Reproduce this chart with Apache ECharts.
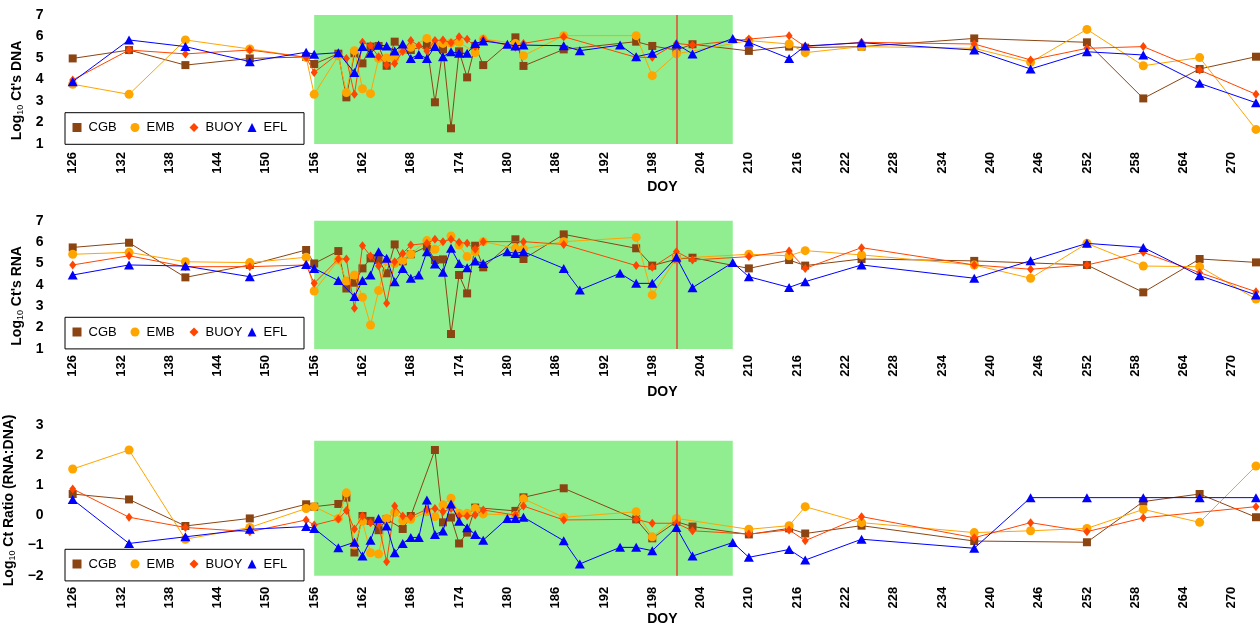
<!DOCTYPE html>
<html>
<head>
<meta charset="utf-8">
<script src="https://cdn.jsdelivr.net/npm/echarts@6/dist/echarts.min.js"></script>
<style>
  html, body { margin: 0; padding: 0; background: #fff; }
  #chart { width: 1260px; height: 625px; }
</style>
</head>
<body>
<div id="chart"></div>
<script>
// DOY, value pairs
const dnaCGB = [[126,4.98],[133,5.37],[140,4.67],[148,4.98],[155,5.05],[156,4.72],[159,5.2],[160,3.17],[161,5.22],[162,4.75],[163,5.53],[164,5.56],[165,4.64],[166,5.76],[167,5.4],[168,5.37],[170,5.6],[171,2.94],[172,5.4],[173,1.73],[174,5.31],[175,4.1],[176,5.56],[177,4.67],[181,5.96],[182,4.63],[187,5.4],[196,5.76],[198,5.56],[201,5.37],[203,5.64],[210,5.33],[215,5.53],[217,5.48],[224,5.53],[238,5.91],[252,5.73],[259,3.12],[266,4.49],[273,5.06]]
const dnaEMB = [[126,3.78],[133,3.31],[140,5.84],[148,5.42],[155,5.03],[156,3.31],[159,5.1],[160,3.39],[161,5.34],[162,3.57],[163,3.34],[164,4.98],[165,5.0],[166,4.98],[167,5.37],[168,5.5],[170,5.91],[171,5.6],[172,5.68],[173,5.7],[174,5.73],[176,5.25],[177,5.88],[181,5.68],[182,5.11],[187,6.04],[196,6.04],[198,4.18],[201,5.19],[210,5.81],[215,5.65],[217,5.25],[224,5.53],[238,5.45],[245,4.8],[252,6.33],[259,4.64],[266,5.02],[273,1.68]]
const dnaBUOY = [[126,3.98],[133,5.37],[140,5.19],[148,5.37],[155,5.03],[156,4.33],[159,5.2],[160,4.98],[161,3.31],[162,5.73],[163,5.57],[164,5.06],[165,4.67],[166,4.75],[167,5.3],[168,5.81],[169,5.57],[170,5.33],[171,5.81],[172,5.84],[173,5.71],[174,5.99],[175,5.87],[176,5.53],[177,5.87],[181,5.5],[182,5.68],[187,5.99],[196,5.03],[198,5.03],[201,5.68],[203,5.6],[210,5.88],[215,6.04],[217,5.53],[224,5.73],[238,5.65],[245,4.91],[252,5.45],[259,5.53],[266,4.44],[273,3.31]]
const dnaEFL = [[126,3.9],[133,5.84],[140,5.53],[148,4.83],[155,5.27],[156,5.17],[159,5.25],[161,4.32],[162,5.53],[163,5.22],[164,5.6],[165,5.56],[166,5.33],[167,5.65],[168,4.98],[169,5.16],[170,4.98],[171,5.53],[172,5.06],[173,5.29],[174,5.22],[175,5.22],[176,5.67],[177,5.79],[180,5.64],[181,5.56],[182,5.6],[187,5.57],[189,5.34],[194,5.6],[196,5.06],[198,5.22],[201,5.65],[203,5.19],[208,5.91],[210,5.73],[215,4.98],[217,5.56],[224,5.71],[238,5.37],[245,4.49],[252,5.29],[259,5.14],[266,3.82],[273,2.92]]

const rnaCGB = [[126,5.75],[133,5.97],[140,4.35],[148,4.93],[155,5.63],[156,5.0],[159,5.58],[160,3.83],[161,4.1],[162,4.77],[163,5.24],[164,5.16],[165,4.54],[166,5.89],[167,5.1],[168,5.43],[170,5.79],[171,5.16],[172,5.19],[173,1.7],[174,4.46],[175,3.6],[176,5.83],[177,4.82],[181,6.13],[182,5.21],[187,6.36],[196,5.71],[198,4.9],[201,5.2],[203,5.27],[210,4.77],[215,5.16],[217,4.9],[224,5.21],[238,5.12],[252,4.93],[259,3.65],[266,5.21],[273,5.05]]
const rnaEMB = [[126,5.43],[133,5.52],[140,5.08],[148,5.04],[155,5.29],[156,3.71],[159,5.16],[160,4.18],[161,4.46],[162,3.42],[163,2.12],[164,3.73],[165,5.1],[166,5.0],[167,5.13],[168,5.43],[170,6.07],[171,5.66],[173,6.29],[174,5.86],[175,5.32],[176,5.55],[177,6.02],[181,5.71],[182,5.68],[187,6.02],[196,6.22],[198,3.53],[201,5.24],[210,5.43],[215,5.36],[217,5.6],[224,5.4],[238,4.93],[245,4.31],[252,5.94],[259,4.88],[266,4.85],[273,3.34]]
const rnaBUOY = [[126,4.93],[133,5.36],[140,4.85],[148,4.85],[155,4.93],[156,4.07],[159,5.21],[160,5.21],[161,2.9],[162,5.83],[163,5.35],[164,4.88],[165,3.14],[166,5.08],[167,5.47],[168,5.86],[170,5.94],[171,6.13],[172,6.02],[173,6.13],[174,5.99],[175,5.94],[176,5.66],[177,6.02],[182,6.02],[187,5.89],[196,4.9],[198,4.82],[201,5.55],[203,5.16],[210,5.32],[215,5.58],[217,4.77],[224,5.74],[238,4.93],[245,4.73],[252,4.93],[259,5.52],[266,4.57],[273,3.68]]
const rnaEFL = [[126,4.46],[133,4.93],[140,4.88],[148,4.38],[155,4.95],[156,4.77],[159,4.2],[161,3.45],[162,4.2],[163,4.46],[164,5.55],[165,5.24],[166,4.15],[167,4.77],[168,4.31],[169,4.46],[170,5.55],[171,4.98],[172,4.59],[173,5.71],[174,5.0],[175,4.8],[176,5.12],[177,5.0],[180,5.55],[181,5.47],[182,5.55],[187,4.77],[189,3.76],[194,4.54],[196,4.07],[198,4.07],[201,5.29],[203,3.87],[208,5.04],[210,4.38],[215,3.88],[217,4.15],[224,4.93],[238,4.31],[245,5.13],[252,5.94],[259,5.75],[266,4.43],[273,3.53]]

const ratioCGB = [[126,0.71],[133,0.53],[140,-0.35],[148,-0.1],[155,0.37],[156,0.29],[159,0.38],[160,0.59],[161,-1.23],[162,-0.02],[163,-0.18],[164,-0.49],[165,-0.12],[167,-0.45],[168,-0.02],[171,2.17],[172,-0.23],[173,-0.07],[174,-0.93],[175,-0.57],[176,0.26],[181,0.15],[182,0.6],[187,0.9],[196,-0.13],[198,-0.76],[201,-0.21],[203,-0.37],[210,-0.63],[215,-0.43],[217,-0.6],[224,-0.34],[238,-0.85],[252,-0.89],[259,0.46],[266,0.71],[273,-0.06]]
const ratioEMB = [[126,1.54],[133,2.17],[140,-0.79],[148,-0.4],[155,0.23],[156,0.29],[159,-0.1],[160,0.75],[161,-0.98],[162,-0.19],[163,-1.24],[164,-1.28],[165,-0.1],[166,0.1],[167,-0.18],[168,-0.13],[170,0.12],[171,-0.04],[172,0.35],[173,0.57],[174,0.07],[175,0.07],[176,0.23],[177,0.05],[181,0.0],[182,0.55],[187,-0.06],[196,0.12],[198,-0.71],[201,-0.1],[210,-0.46],[215,-0.34],[217,0.29],[224,-0.24],[238,-0.57],[245,-0.51],[252,-0.43],[259,0.2],[266,-0.23],[273,1.64]]
const ratioBUOY = [[126,0.88],[133,-0.06],[140,-0.4],[148,-0.54],[155,-0.15],[156,-0.32],[159,-0.12],[160,0.16],[161,-0.45],[162,-0.02],[163,-0.24],[164,-0.29],[165,-1.54],[166,0.31],[167,-0.02],[168,-0.04],[170,0.2],[171,0.23],[172,0.12],[173,0.23],[174,-0.02],[175,-0.02],[176,0.01],[177,0.18],[181,0.01],[182,0.31],[187,-0.15],[196,-0.13],[198,-0.26],[201,-0.26],[203,-0.51],[210,-0.62],[215,-0.48],[217,-0.84],[224,-0.04],[238,-0.74],[245,-0.24],[252,-0.54],[259,-0.08],[273,0.29]]
const ratioEFL = [[126,0.53],[133,-0.93],[140,-0.71],[148,-0.46],[155,-0.37],[156,-0.43],[159,-1.07],[161,-0.89],[162,-1.35],[163,-0.82],[164,-0.1],[165,-0.35],[166,-1.24],[167,-0.93],[168,-0.73],[169,-0.73],[170,0.51],[171,-0.63],[172,-0.52],[173,0.38],[174,-0.19],[175,-0.41],[176,-0.63],[177,-0.82],[180,-0.1],[181,-0.1],[182,-0.06],[187,-0.84],[189,-1.61],[194,-1.06],[196,-1.06],[198,-1.17],[201,-0.4],[203,-1.35],[208,-0.9],[210,-1.39],[215,-1.13],[217,-1.48],[224,-0.79],[238,-1.09],[245,0.59],[252,0.59],[259,0.59],[266,0.59],[273,0.59]]

const siteNames = ['CGB', 'EMB', 'BUOY', 'EFL']
const panelData = [
  [dnaCGB, dnaEMB, dnaBUOY, dnaEFL],
  [rnaCGB, rnaEMB, rnaBUOY, rnaEFL],
  [ratioCGB, ratioEMB, ratioBUOY, ratioEFL],
]
const panelTitles = ["Log{s|10} Ct's DNA", "Log{s|10} Ct's RNA", 'Log{s|10} Ct Ratio (RNA:DNA)']
const yRanges = [[1, 7], [1, 7], [-2, 3]]
const shadeY = [[1, 7], [1, 7], [-2, 2.48]]
const shadeX = [156, 208]
const eventDoy = 201

const FONT = 'Liberation Sans, Arial, sans-serif'
const colors = ['#8B4513', '#FFA500', '#FF4500', '#0000FF']
const symbols = ['rect', 'circle', 'diamond', 'triangle']
const symbolSizes = [8, 9, [7, 9], [10, 9]]

// grid geometry per panel
const gridTops = [15, 220.7, 425]
const gridHeights = [129, 128.3, 150.7]
const labelMargins = [8, 6, 11]
const doyGaps = [36, 36, 34]
const titleShift = [22, 22, 0]
const legendTops = [121, 325.5, 557.5]
const legendLefts = [72.5, 130.5, 189.5, 247.5]
const boxTops = [112.7, 317.3, 549.3]

const grids = gridTops.map((top, i) => ({
  left: 64.65,
  right: 0,
  top: top,
  height: gridHeights[i],
  outerBoundsMode: 'none',
  containLabel: false,
}))

const xAxes = gridTops.map((_, i) => ({
  type: 'value',
  gridIndex: i,
  min: 125,
  max: 273.5,
  interval: 1,
  name: 'DOY',
  nameLocation: 'middle',
  nameGap: doyGaps[i],
  nameTextStyle: { fontFamily: FONT, fontWeight: 'bold', fontSize: 14, color: '#000' },
  axisLine: { show: false },
  axisTick: { show: false },
  splitLine: { show: false },
  axisLabel: {
    rotate: 90,
    margin: labelMargins[i],
    fontFamily: FONT,
    fontWeight: 'bold',
    fontSize: 13,
    color: '#000',
    formatter: (v) => ((v - 126) % 6 === 0 ? String(v) : ''),
  },
}))

const yAxes = gridTops.map((_, i) => ({
  type: 'value',
  gridIndex: i,
  min: yRanges[i][0],
  max: yRanges[i][1],
  interval: 1,
  name: panelTitles[i],
  nameLocation: 'middle',
  nameRotate: 90,
  nameGap: 38,
  nameTextStyle: {
    fontFamily: FONT,
    fontWeight: 'bold',
    fontSize: 14,
    color: '#000',
    padding: [0, titleShift[i], 0, 0],
    rich: {
      s: { fontFamily: FONT, fontSize: 9, fontWeight: 'normal', color: '#000', verticalAlign: 'bottom', padding: [6, 0, 0, 0] },
    },
  },
  axisLine: { show: false },
  axisTick: { show: false },
  splitLine: { show: false },
  axisLabel: {
    margin: 21,
    fontFamily: FONT,
    fontWeight: 'bold',
    fontSize: 14,
    color: '#000',
    formatter: (v) => String(v).replace('-', '\u2212'),
  },
}))

const series = []
panelData.forEach((sets, p) => {
  // shaded period and event line
  series.push({
    type: 'line',
    xAxisIndex: p,
    yAxisIndex: p,
    data: [],
    z: 1,
    silent: true,
    markArea: {
      silent: true,
      itemStyle: { color: '#90EE90' },
      data: [[{ coord: [shadeX[0], shadeY[p][0]] }, { coord: [shadeX[1], shadeY[p][1]] }]],
    },
    markLine: {
      silent: true,
      symbol: 'none',
      label: { show: false },
      lineStyle: { color: '#D2704A', width: 2, type: 'solid' },
      data: [[{ coord: [eventDoy, shadeY[p][0]] }, { coord: [eventDoy, shadeY[p][1]] }]],
    },
  })
  sets.forEach((data, k) => {
    series.push({
      name: siteNames[k],
      type: 'line',
      xAxisIndex: p,
      yAxisIndex: p,
      data: data,
      z: 3 + k,
      symbol: symbols[k],
      symbolSize: symbolSizes[k],
      showAllSymbol: true,
      color: colors[k],
      lineStyle: { width: 1, color: colors[k] },
      itemStyle: { color: colors[k] },
      emphasis: { disabled: true },
    })
  })
})

// one legend per entry so the columns sit at even spacing, as in the box of the original
const legends = []
legendTops.forEach((top) => {
  siteNames.forEach((n, k) => {
    legends.push({
      left: legendLefts[k],
      top: top,
      padding: 0,
      itemWidth: 9,
      itemHeight: 9,
      selectedMode: false,
      textStyle: { fontFamily: FONT, fontSize: 13, color: '#000', padding: [0, 0, 0, 2] },
      data: [{ name: n, icon: symbols[k], itemStyle: { color: colors[k] } }],
      z: 10,
    })
  })
})

const boxes = boxTops.map((top) => ({
  type: 'rect',
  shape: { x: 65, y: top, width: 239, height: 31.6 },
  style: { fill: '#fff', stroke: '#000', lineWidth: 1 },
  z: 9,
}))

const chart = echarts.init(document.getElementById('chart'), null, { width: 1260, height: 625 })
chart.setOption({
  animation: false,
  backgroundColor: '#fff',
  grid: grids,
  xAxis: xAxes,
  yAxis: yAxes,
  legend: legends,
  graphic: boxes,
  series: series,
})
</script>
</body>
</html>
